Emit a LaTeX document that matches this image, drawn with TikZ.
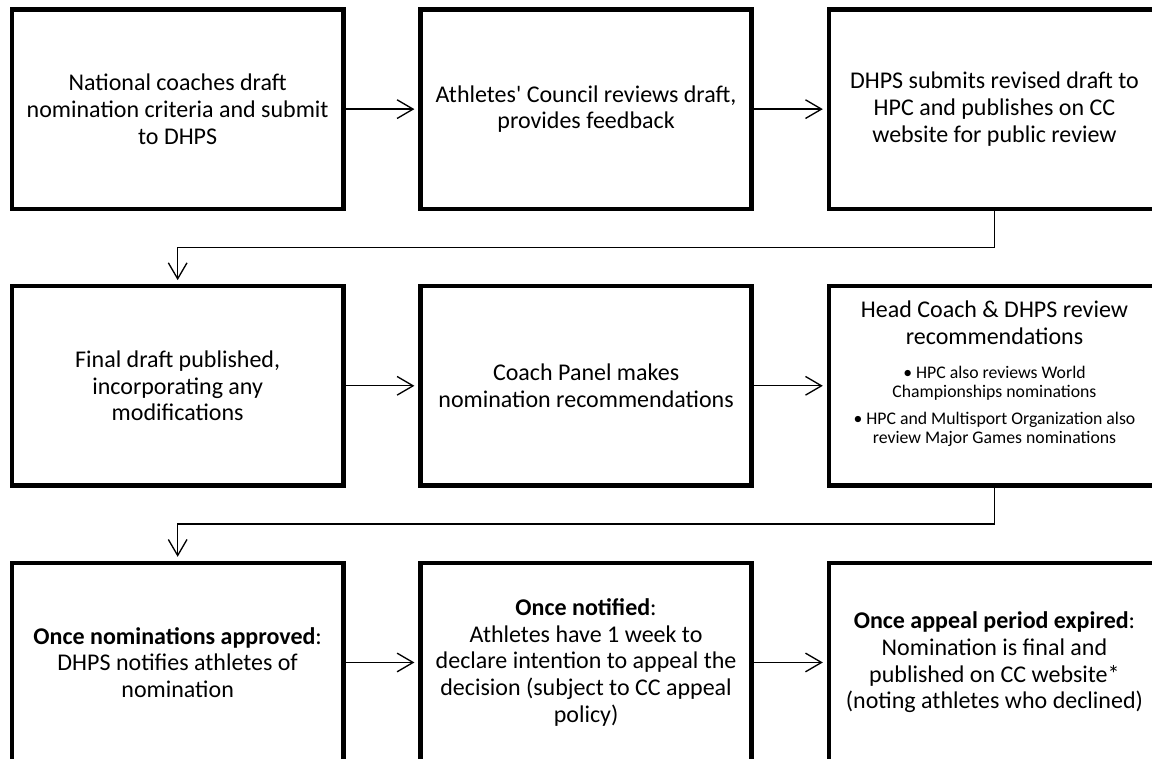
\documentclass[tikz,border=0pt]{standalone}
\usepackage{fontspec}
\setmainfont{Carlito}
\usetikzlibrary{positioning,arrows.meta}
\newcommand\notefont{\fontsize{13.3}{14.5}\selectfont}

\begin{document}
\begin{tikzpicture}[
    stage/.style={rectangle,draw=black,line width=3.4pt,outer sep=0pt,
        minimum width=248.5pt,minimum height=149.5pt,align=center,
        font=\fontsize{18}{20}\selectfont},
    flow/.style={draw=black,line width=1pt,
        -{Straight Barb[length=12pt,width=14pt,line width=1pt]},shorten >=4.5pt},
]
\useasboundingbox (0,0) rectangle (864pt,-569.25pt);

% first row: drafting the criteria
\node[stage] (coaches) at (133.25pt,-81.85pt) {National coaches draft\\ nomination criteria and submit\\ to DHPS};
\node[stage, right=57.8pt of coaches] (council) {Athletes\textquotesingle\ Council reviews draft,\\ provides feedback};
\node[stage, right=57.8pt of council] (revised) {DHPS submits revised draft to\\ HPC and publishes on CC\\ website for public review};

% second row: nominations
\node[stage, below=58pt of coaches] (final) {Final draft published,\\ incorporating any\\ modifications};
\node[stage, below=58pt of council] (panel) {Coach Panel makes\\ nomination recommendations};
\node[stage, below=58pt of revised, text width=240pt, align=flush center] (review) {Head Coach \& DHPS review\\ recommendations\par\vspace{11pt}
    {\notefont \textbullet\ HPC also reviews World\\ Championships nominations\par}\vspace{5.5pt}
    {\notefont \textbullet\ HPC and Multisport Organization also\\ review Major Games nominations\par}\hbox{}};

% third row: notification and appeal
\node[stage, below=58pt of final] (approved) {\textbf{Once nominations approved}:\\ DHPS notifies athletes of\\ nomination};
\node[stage, below=58pt of panel] (notified) {\textbf{Once notified}:\\ Athletes have 1 week to\\ declare intention to appeal the\\ decision (subject to CC appeal\\ policy)};
\node[stage, below=58pt of review] (expired) {\textbf{Once appeal period expired}:\\ Nomination is final and\\ published on CC website*\\ (noting athletes who declined)};

% arrows along the rows
\draw[flow] (coaches.east) -- (council.west);
\draw[flow] (council.east) -- (revised.west);
\draw[flow] (final.east) -- (panel.west);
\draw[flow] (panel.east) -- (review.west);
\draw[flow] (approved.east) -- (notified.west);
\draw[flow] (notified.east) -- (expired.west);

% arrows back to the next row
\draw[flow] (revised.south) -- ++(0,-29pt) -| (final.north);
\draw[flow] (review.south) -- ++(0,-29pt) -| (approved.north);
\end{tikzpicture}
\end{document}
